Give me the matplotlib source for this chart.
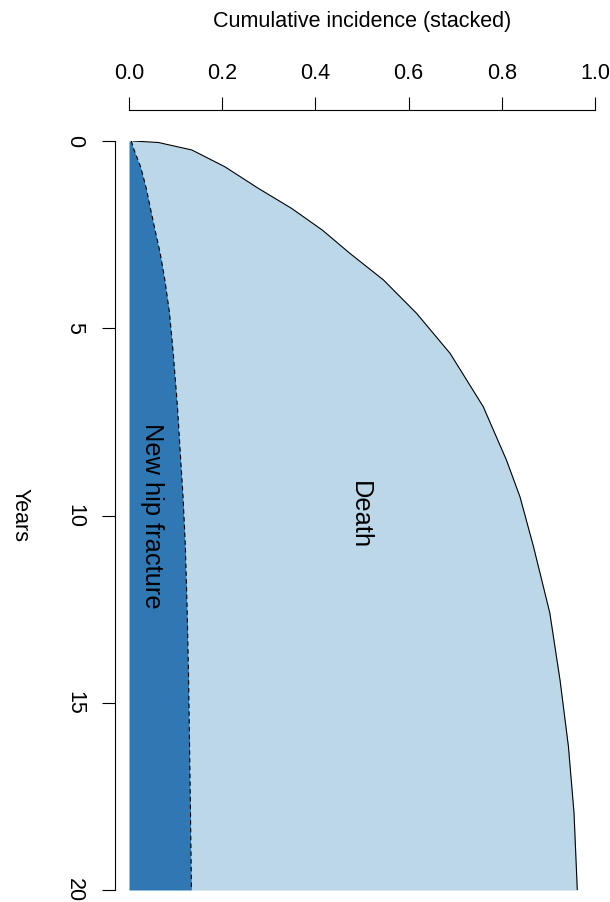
import matplotlib
matplotlib.use("Agg")
import matplotlib.pyplot as plt

plt.rcParams['font.family'] = ['Liberation Sans', 'DejaVu Sans']

# years since fracture
years = [0, 0.04, 0.24, 0.69, 1.26, 1.8, 2.38, 3.0, 3.71, 4.6, 5.67, 7.09, 8.52, 9.5,
         10.83, 12.6, 14.4, 16.17, 17.95, 20]
# cumulative incidence of new hip fracture
hip_cum = [0.005, 0.006, 0.011, 0.025, 0.037, 0.046, 0.056, 0.067, 0.077, 0.087, 0.095,
           0.104, 0.111, 0.116, 0.121, 0.125, 0.128, 0.130, 0.132, 0.134]
# hip fracture + death, stacked
death_stacked = [0.009, 0.063, 0.135, 0.206, 0.277, 0.349, 0.415, 0.474, 0.546, 0.617, 0.689,
                 0.760, 0.810, 0.839, 0.868, 0.903, 0.925, 0.943, 0.955, 0.962]

xticks = [0.0, 0.2, 0.4, 0.6, 0.8, 1.0]
yticks = [0, 5, 10, 15, 20]

fig = plt.figure(figsize=(6.10, 9.02), dpi=100)
ax = fig.add_axes([129/610, 1 - 890/902, 466/610, 749/902])

ax.fill_betweenx(years, 0, hip_cum, color='#2F78B3', lw=0)
ax.fill_betweenx(years, hip_cum, death_stacked, color='#BBD7E8', lw=0)
ax.plot(hip_cum, years, color='black', lw=0.8, ls=(0, (4, 3)))
ax.plot(death_stacked, years, color='black', lw=0.8)

ax.set_xlim(0, 1)
ax.set_ylim(20, 0)

for s in ['right', 'bottom']:
    ax.spines[s].set_visible(False)
# spine offsets are in points (100 dpi -> 0.72 pt per px)
ax.spines['top'].set_position(('outward', 22.3))
ax.spines['left'].set_position(('outward', 10))
ax.spines['top'].set_bounds(0, 1)
ax.spines['left'].set_bounds(0, 20)
ax.spines['top'].set_linewidth(0.8)
ax.spines['left'].set_linewidth(0.8)

ax.xaxis.tick_top()
ax.xaxis.set_label_position('top')
ax.set_xticks(xticks)
ax.set_xticklabels(['%.1f' % v for v in xticks], fontsize=15.5)
ax.set_yticks(yticks)
ax.set_yticklabels([str(v) for v in yticks], fontsize=15.5, rotation=-90, va='center')
ax.tick_params(length=9.5, width=0.8, direction='out')
ax.tick_params(axis='x', pad=9)
ax.tick_params(axis='y', pad=12)

ax.set_xlabel('Cumulative incidence (stacked)', fontsize=15.5, labelpad=26)
ax.set_ylabel('Years', fontsize=15.5, rotation=-90, labelpad=32, va='center')

ax.text(0.05, 10, 'New hip fracture', rotation=-90, ha='center', va='center', fontsize=18.3)
ax.text(0.495, 10, 'Death', rotation=-90, ha='center', va='center', fontsize=18.3)

fig.savefig('out.png', dpi=100)
